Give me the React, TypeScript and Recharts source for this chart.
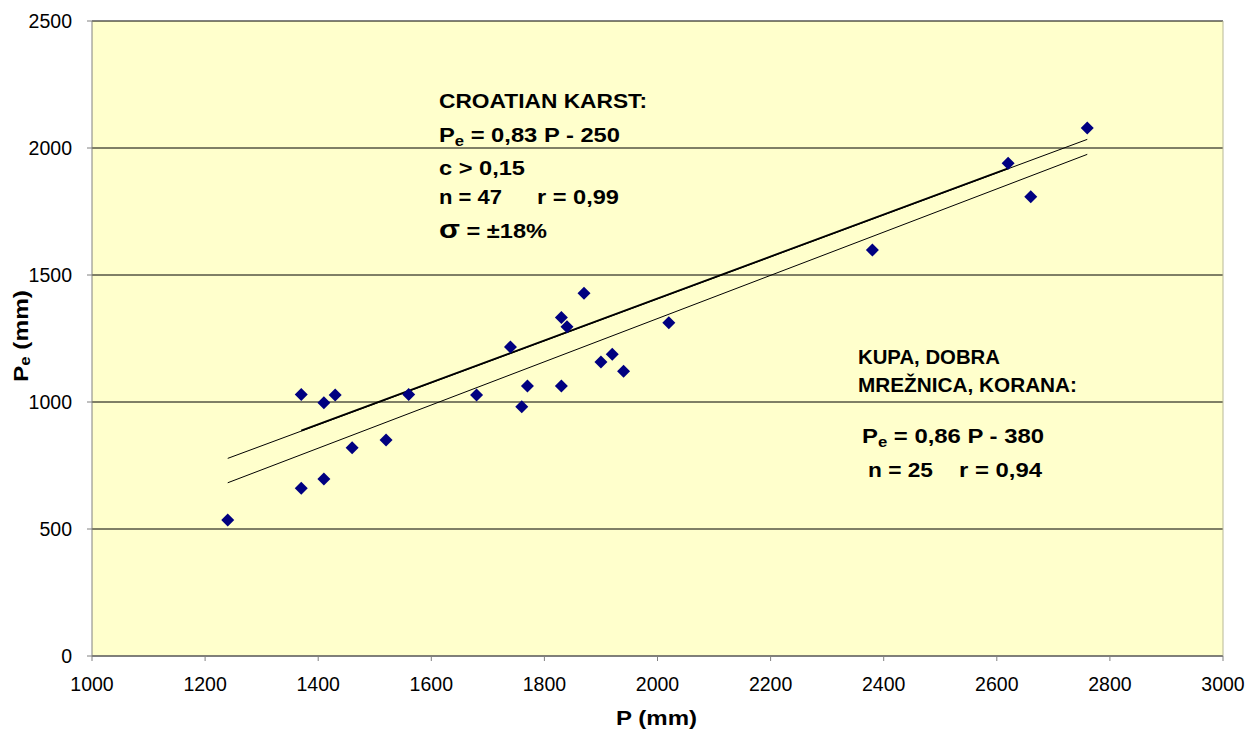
import React from "react";
import {
  ScatterChart,
  Scatter,
  XAxis,
  YAxis,
  CartesianGrid,
  ReferenceLine,
} from "recharts";

// P (mm) vs Pe (mm), Kupa / Dobra / Mrežnica / Korana catchments
const precip = [
  1240, 1370, 1370, 1410, 1410, 1430, 1460, 1520, 1560, 1680, 1740, 1760, 1770,
  1830, 1830, 1840, 1870, 1900, 1920, 1940, 2020, 2380, 2620, 2660, 2760,
];
const effective = [
  535, 660, 1030, 697, 997, 1028, 820, 850, 1030, 1028, 1217, 981, 1063, 1333,
  1063, 1296, 1428, 1157, 1188, 1121, 1312, 1598, 1940, 1808, 2079,
];

const xTicks = [1000, 1200, 1400, 1600, 1800, 2000, 2200, 2400, 2600, 2800, 3000];
const yTicks = [0, 500, 1000, 1500, 2000, 2500];

// regression lines, end points
const karstLine = [
  { x: 1240, y: 778 },
  { x: 2760, y: 2034 },
];
const karstLineBold = [
  { x: 1370, y: 887 },
  { x: 2620, y: 1920 },
];
const kupaLine = [
  { x: 1240, y: 682 },
  { x: 2760, y: 1975 },
];

const points = precip.map((p, i) => ({ x: p, y: effective[i] }));

const font = "'Liberation Sans', Arial, sans-serif";

const Diamond = (props: any) => {
  const { cx, cy } = props;
  const s = 6.5;
  return (
    <polygon
      points={`${cx},${cy - s} ${cx + s},${cy} ${cx},${cy + s} ${cx - s},${cy}`}
      fill="#000080"
    />
  );
};

export default function App() {
  const tickStyle = { fontSize: 19.5, fill: "#000", fontFamily: font };
  return (
    <div style={{ position: "absolute", left: 0, top: 0, width: 1250, height: 729, background: "#fff" }}>
      <ScatterChart
        width={1250}
        height={729}
        margin={{ top: 21, right: 27, bottom: 43, left: 12 }}
      >
        <CartesianGrid vertical={false} stroke="#000" fill="#FFFFCC" />
        <XAxis
          type="number"
          dataKey="x"
          domain={[1000, 3000]}
          ticks={xTicks}
          height={30}
          tickSize={5}
          tickMargin={16}
          tick={tickStyle}
          axisLine={{ stroke: "#808080" }}
          tickLine={{ stroke: "#808080" }}
        />
        <YAxis
          type="number"
          dataKey="y"
          domain={[0, 2500]}
          ticks={yTicks}
          width={80}
          tickSize={5}
          tickMargin={15}
          tick={tickStyle}
          axisLine={{ stroke: "#808080" }}
          tickLine={{ stroke: "#808080" }}
        />
        <ReferenceLine x={3000} stroke="#b8b898" />
        <ReferenceLine segment={karstLine} stroke="#000" strokeWidth={1} />
        <ReferenceLine segment={karstLineBold} stroke="#000" strokeWidth={1.8} />
        <ReferenceLine segment={kupaLine} stroke="#000" strokeWidth={1} />
        <Scatter data={points} shape={Diamond} isAnimationActive={false} />
      </ScatterChart>

      <svg
        width={1250}
        height={729}
        style={{ position: "absolute", left: 0, top: 0, pointerEvents: "none" }}
        fontFamily={font}
        fontWeight="bold"
        fill="#000"
      >
        <text x={439} y={108} fontSize={20} textLength={208} lengthAdjust="spacingAndGlyphs">
          CROATIAN KARST:
        </text>
        <text x={439} y={142} fontSize={20} textLength={181} lengthAdjust="spacingAndGlyphs">
          P<tspan fontSize={14} dy={4}>e</tspan>
          <tspan dy={-4}> = 0,83 P - 250</tspan>
        </text>
        <text x={439} y={175} fontSize={20} textLength={86} lengthAdjust="spacingAndGlyphs">
          c &gt; 0,15
        </text>
        <text x={439} y={204} fontSize={20} textLength={63} lengthAdjust="spacingAndGlyphs">
          n = 47
        </text>
        <text x={537} y={204} fontSize={20} textLength={82} lengthAdjust="spacingAndGlyphs">
          r = 0,99
        </text>
        <text x={439} y={238} fontSize={20} textLength={108} lengthAdjust="spacingAndGlyphs">
          <tspan fontSize={26}>σ</tspan> = ±18%
        </text>

        <text x={858} y={364} fontSize={20} textLength={142} lengthAdjust="spacingAndGlyphs">
          KUPA, DOBRA
        </text>
        <text x={858} y={392} fontSize={20} textLength={219} lengthAdjust="spacingAndGlyphs">
          MREŽNICA, KORANA:
        </text>
        <text x={862} y={443} fontSize={20} textLength={182} lengthAdjust="spacingAndGlyphs">
          P<tspan fontSize={14} dy={4}>e</tspan>
          <tspan dy={-4}> = 0,86 P - 380</tspan>
        </text>
        <text x={868} y={477} fontSize={20} textLength={65} lengthAdjust="spacingAndGlyphs">
          n = 25
        </text>
        <text x={959} y={477} fontSize={20} textLength={83} lengthAdjust="spacingAndGlyphs">
          r = 0,94
        </text>

        <text x={616} y={725} fontSize={20.5} textLength={81} lengthAdjust="spacingAndGlyphs">
          P (mm)
        </text>
        <text
          transform="translate(28,382) rotate(-90)"
          fontSize={20.5}
          textLength={92}
          lengthAdjust="spacingAndGlyphs"
        >
          P<tspan fontSize={14} dy={2}>e</tspan>
          <tspan dy={-2}> (mm)</tspan>
        </text>
      </svg>
    </div>
  );
}
